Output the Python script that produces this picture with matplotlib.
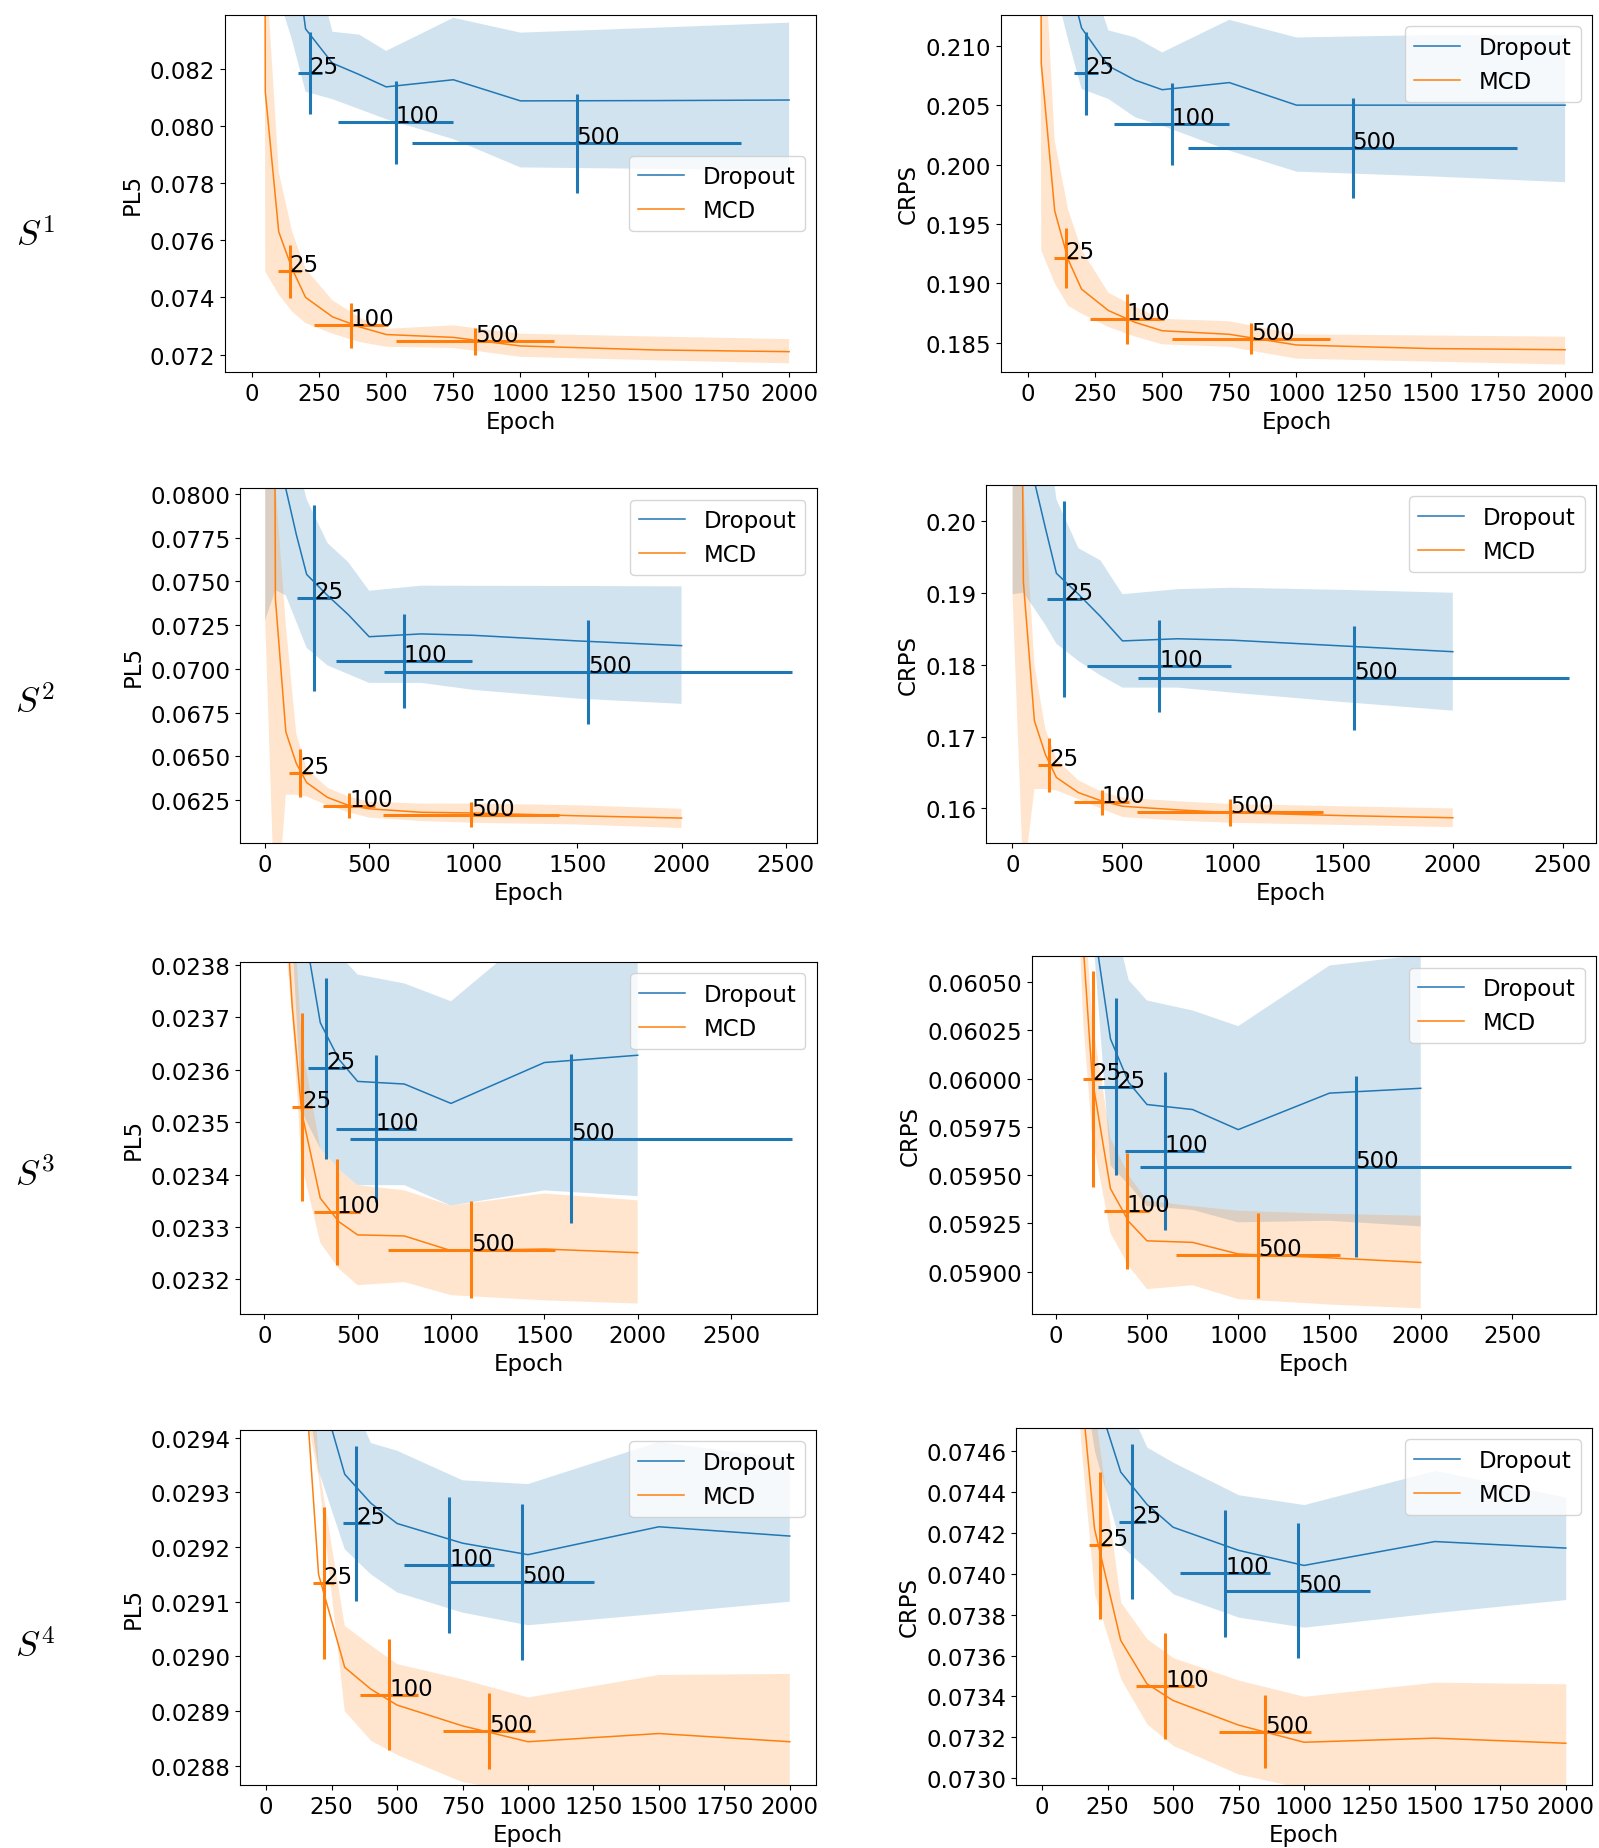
import matplotlib
matplotlib.use("Agg")
import matplotlib.pyplot as plt
from matplotlib.ticker import FormatStrFormatter

plt.rcParams["mathtext.fontset"] = "cm"
plt.rcParams["font.family"] = ["DejaVu Sans"]

# ---------------- data ----------------
epochs = [1, 50, 100, 150, 200, 300, 400, 500, 750, 1000, 1500, 2000]
series_names = ["Dropout", "MCD"]
cross_labels = ["25", "100", "500"]
row_labels = ["$S^1$", "$S^2$", "$S^3$", "$S^4$"]
metric_names = ["PL5", "CRPS"]

# cross positions along epoch axis (shared by both metrics of one setting)
s1_drop_cx = [215, 535, 1209]
s1_drop_cxerr = [45, 214, 612]
s1_mcd_cx = [141, 368, 831]
s1_mcd_cxerr = [43, 138, 293]
s2_drop_cx = [235, 667, 1550]
s2_drop_cxerr = [80, 327, 978]
s2_mcd_cx = [168, 405, 989]
s2_mcd_cxerr = [53, 125, 422]
s3_drop_cx = [332, 597, 1643]
s3_drop_cxerr = [100, 215, 1182]
s3_mcd_cx = [203, 389, 1109]
s3_mcd_cxerr = [52, 123, 448]
s4_drop_cx = [344, 699, 976]
s4_drop_cxerr = [51, 172, 278]
s4_mcd_cx = [219, 470, 851]
s4_mcd_cxerr = [39, 110, 177]

# S1 PL5
s1_pl5_drop_mean = [0.30, 0.12, 0.095, 0.0870, 0.0834, 0.0822, 0.0818, 0.08137, 0.08162, 0.08088, 0.08089, 0.08091]
s1_pl5_drop_up = [0.32, 0.15, 0.11, 0.095, 0.0870, 0.0833, 0.0832, 0.08263, 0.08379, 0.08327, 0.08344, 0.08362]
s1_pl5_drop_lo = [0.28, 0.10, 0.0845, 0.0830, 0.0812, 0.08094, 0.08059, 0.08024, 0.07954, 0.07855, 0.0785, 0.07847]
s1_pl5_mcd_mean = [0.40, 0.0812, 0.0763, 0.0750, 0.0740, 0.07332, 0.07297, 0.0727, 0.0726, 0.0723, 0.07216, 0.0721]
s1_pl5_mcd_up = [0.45, 0.0860, 0.0784, 0.0763, 0.0750, 0.0739, 0.0733, 0.0729, 0.07302, 0.07273, 0.07263, 0.07254]
s1_pl5_mcd_lo = [0.35, 0.0749, 0.0741, 0.0735, 0.0731, 0.07273, 0.07244, 0.07227, 0.07223, 0.07192, 0.0718, 0.07169]
s1_pl5_drop_cy = [0.08185, 0.08013, 0.07939]
s1_pl5_drop_cyerr = [0.00143, 0.00145, 0.00173]
s1_pl5_mcd_cy = [0.07491, 0.07302, 0.07247]
s1_pl5_mcd_cyerr = [0.00094, 0.00078, 0.00047]

# S1 CRPS
s1_crps_drop_mean = [0.5, 0.25, 0.225, 0.2160, 0.2115, 0.2083, 0.2071, 0.2063, 0.2069, 0.2050, 0.2050, 0.2050]
s1_crps_drop_up = [0.55, 0.30, 0.25, 0.23, 0.2180, 0.2113, 0.2107, 0.20944, 0.21219, 0.2107, 0.2109, 0.2109]
s1_crps_drop_lo = [0.45, 0.22, 0.2150, 0.2105, 0.20636, 0.20552, 0.20397, 0.20327, 0.20117, 0.1994, 0.1990, 0.19851]
s1_crps_mcd_mean = [0.6, 0.2085, 0.1961, 0.1920, 0.1895, 0.1877, 0.1867, 0.1860, 0.1857, 0.1848, 0.1845, 0.1844]
s1_crps_mcd_up = [0.65, 0.2232, 0.2020, 0.1962, 0.1928, 0.1892, 0.1880, 0.1870, 0.1868, 0.1857, 0.1856, 0.1855]
s1_crps_mcd_lo = [0.55, 0.19276, 0.1900, 0.1881, 0.18744, 0.18632, 0.1855, 0.18486, 0.18464, 0.18365, 0.1834, 0.18315]
s1_crps_drop_cy = [0.20770, 0.20341, 0.2014]
s1_crps_drop_cyerr = [0.0035, 0.00343, 0.00423]
s1_crps_mcd_cy = [0.19215, 0.18696, 0.18534]
s1_crps_mcd_cyerr = [0.00252, 0.0021, 0.0013]

# S2 PL5
s2_pl5_drop_mean = [0.20, 0.12, 0.0803, 0.0777, 0.0754, 0.0742, 0.0731, 0.07184, 0.0720, 0.07192, 0.0716, 0.07133]
s2_pl5_drop_up = [0.25, 0.15, 0.11, 0.0820, 0.0797, 0.0772, 0.0761, 0.07447, 0.07476, 0.07475, 0.07474, 0.07472]
s2_pl5_drop_lo = [0.0728, 0.0745, 0.0742, 0.0727, 0.0712, 0.0702, 0.0697, 0.0692, 0.0692, 0.0688, 0.0683, 0.0680]
s2_pl5_mcd_mean = [0.25, 0.0740, 0.0664, 0.0646, 0.0635, 0.06265, 0.0622, 0.0620, 0.0618, 0.06176, 0.0616, 0.06147]
s2_pl5_mcd_up = [0.30, 0.0805, 0.0725, 0.0663, 0.0643, 0.0632, 0.0627, 0.0624, 0.0623, 0.0623, 0.0622, 0.0620]
s2_pl5_mcd_lo = [0.0727, 0.0550, 0.0628, 0.0628, 0.0627, 0.0622, 0.0618, 0.0615, 0.0613, 0.0612, 0.0611, 0.0609]
s2_pl5_drop_cy = [0.07405, 0.07043, 0.06984]
s2_pl5_drop_cyerr = [0.00534, 0.00268, 0.00298]
s2_pl5_mcd_cy = [0.06404, 0.06218, 0.06166]
s2_pl5_mcd_cyerr = [0.00138, 0.0007, 0.0007]

# S2 CRPS
s2_crps_drop_mean = [0.40, 0.30, 0.2055, 0.1990, 0.1927, 0.1898, 0.1867, 0.1833, 0.1836, 0.1834, 0.1826, 0.1818]
s2_crps_drop_up = [0.45, 0.35, 0.25, 0.215, 0.2030, 0.1962, 0.1945, 0.1898, 0.1905, 0.1907, 0.1904, 0.1900]
s2_crps_drop_lo = [0.1898, 0.1900, 0.1878, 0.1855, 0.1829, 0.1805, 0.1785, 0.1768, 0.1768, 0.1761, 0.1748, 0.1736]
s2_crps_mcd_mean = [0.40, 0.1915, 0.1722, 0.1675, 0.1643, 0.1622, 0.1611, 0.1603, 0.1598, 0.1594, 0.1590, 0.1587]
s2_crps_mcd_up = [0.45, 0.205, 0.1800, 0.1710, 0.1668, 0.1639, 0.1624, 0.1615, 0.1610, 0.1606, 0.1603, 0.1600]
s2_crps_mcd_lo = [0.1895, 0.150, 0.1627, 0.1627, 0.1625, 0.1613, 0.1600, 0.1588, 0.1583, 0.1580, 0.1577, 0.1574]
s2_crps_drop_cy = [0.18911, 0.17979, 0.17817]
s2_crps_drop_cyerr = [0.0136, 0.0064, 0.0072]
s2_crps_mcd_cy = [0.16603, 0.16083, 0.15944]
s2_crps_mcd_cyerr = [0.0037, 0.0017, 0.0019]

# S3 PL5
s3_pl5_drop_mean = [0.030, 0.026, 0.0245, 0.0241, 0.02390, 0.023690, 0.023620, 0.023578, 0.023573, 0.023536, 0.023614, 0.023628]
s3_pl5_drop_up = [0.032, 0.028, 0.026, 0.025, 0.0245, 0.0240, 0.02382, 0.023782, 0.023765, 0.023731, 0.02388, 0.02395]
s3_pl5_drop_lo = [0.028, 0.025, 0.0242, 0.02385, 0.02352, 0.02345, 0.02341, 0.02338, 0.02338, 0.023341, 0.02337, 0.023359]
s3_pl5_mcd_mean = [0.030, 0.026, 0.0240, 0.02372, 0.02352, 0.023355, 0.02331, 0.023285, 0.023283, 0.023255, 0.023258, 0.023251]
s3_pl5_mcd_up = [0.031, 0.027, 0.0245, 0.02395, 0.02365, 0.02345, 0.02341, 0.02338, 0.02337, 0.023341, 0.023364, 0.023351]
s3_pl5_mcd_lo = [0.029, 0.025, 0.0239, 0.02370, 0.02342, 0.02327, 0.02322, 0.023189, 0.023195, 0.02317, 0.02316, 0.023154]
s3_pl5_drop_cy = [0.023603, 0.023488, 0.023469]
s3_pl5_drop_cyerr = [0.000173, 0.00014, 0.000162]
s3_pl5_mcd_cy = [0.023529, 0.023329, 0.023257]
s3_pl5_mcd_cyerr = [0.000179, 0.000101, 0.000092]

# S3 CRPS
s3_crps_drop_mean = [0.070, 0.065, 0.0620, 0.0612, 0.06085, 0.060206, 0.05998, 0.059866, 0.05984, 0.059736, 0.059925, 0.05995]
s3_crps_drop_up = [0.072, 0.067, 0.064, 0.063, 0.0618, 0.0609, 0.06051, 0.060405, 0.060353, 0.060272, 0.060586, 0.06064]
s3_crps_drop_lo = [0.068, 0.064, 0.0615, 0.0615, 0.0608, 0.05955, 0.05945, 0.05934, 0.05932, 0.059256, 0.059264, 0.059235]
s3_crps_mcd_mean = [0.070, 0.065, 0.0620, 0.0607, 0.06000, 0.05943, 0.05926, 0.05916, 0.059152, 0.059092, 0.059072, 0.059048]
s3_crps_mcd_up = [0.071, 0.066, 0.0625, 0.0610, 0.0603, 0.05969, 0.05950, 0.059368, 0.05934, 0.059316, 0.0593, 0.05929]
s3_crps_mcd_lo = [0.069, 0.064, 0.0615, 0.0603, 0.0597, 0.05920, 0.05903, 0.05891, 0.05893, 0.058858, 0.05883, 0.05881]
s3_crps_drop_cy = [0.059959, 0.059624, 0.059544]
s3_crps_drop_cyerr = [0.00046, 0.00041, 0.00047]
s3_crps_mcd_cy = [0.059999, 0.059313, 0.059086]
s3_crps_mcd_cyerr = [0.00056, 0.0003, 0.00022]

# S4 PL5
s4_pl5_drop_mean = [0.035, 0.032, 0.0305, 0.0298, 0.02950, 0.029333, 0.02928, 0.029243, 0.029207, 0.029186, 0.029237, 0.029220]
s4_pl5_drop_up = [0.036, 0.033, 0.031, 0.0300, 0.0296, 0.02950, 0.02939, 0.029376, 0.029322, 0.029315, 0.029392, 0.02936]
s4_pl5_drop_lo = [0.034, 0.031, 0.0300, 0.0295, 0.02934, 0.029196, 0.02915, 0.029117, 0.02908, 0.029057, 0.029078, 0.0291]
s4_pl5_mcd_mean = [0.035, 0.032, 0.0300, 0.02950, 0.02915, 0.02898, 0.02894, 0.028911, 0.028873, 0.028844, 0.028859, 0.028844]
s4_pl5_mcd_up = [0.036, 0.033, 0.0305, 0.0298, 0.02935, 0.029056, 0.02902, 0.028986, 0.028958, 0.028925, 0.028966, 0.028968]
s4_pl5_mcd_lo = [0.034, 0.031, 0.0298, 0.02945, 0.02933, 0.0289, 0.028846, 0.02882, 0.02877, 0.02875, 0.02875, 0.02875]
s4_pl5_drop_cy = [0.029243, 0.029167, 0.029136]
s4_pl5_drop_cyerr = [0.000141, 0.000124, 0.000142]
s4_pl5_mcd_cy = [0.029135, 0.02893, 0.028864]
s4_pl5_mcd_cyerr = [0.000139, 0.000102, 0.000069]

# S4 CRPS
s4_crps_drop_mean = [0.080, 0.078, 0.0765, 0.0755, 0.0749, 0.074498, 0.07434, 0.074228, 0.074115, 0.074041, 0.074158, 0.074126]
s4_crps_drop_up = [0.081, 0.079, 0.0775, 0.0760, 0.0752, 0.0749, 0.07462, 0.074546, 0.074387, 0.074339, 0.074506, 0.074375]
s4_crps_drop_lo = [0.079, 0.077, 0.0760, 0.0750, 0.0746, 0.074139, 0.074024, 0.073902, 0.073788, 0.073739, 0.07381, 0.073874]
s4_crps_mcd_mean = [0.080, 0.078, 0.0760, 0.0749, 0.07422, 0.073674, 0.073462, 0.07338, 0.07326, 0.073176, 0.073196, 0.073171]
s4_crps_mcd_up = [0.081, 0.079, 0.0770, 0.0755, 0.0748, 0.073861, 0.073682, 0.07359, 0.07348, 0.073401, 0.07347, 0.073462]
s4_crps_mcd_lo = [0.079, 0.077, 0.0755, 0.0746, 0.07390, 0.073486, 0.073266, 0.07316, 0.07302, 0.07295, 0.07295, 0.07295]
s4_crps_drop_cy = [0.074256, 0.074002, 0.073917]
s4_crps_drop_cyerr = [0.00038, 0.00031, 0.00033]
s4_crps_mcd_cy = [0.074139, 0.07345, 0.073228]
s4_crps_mcd_cyerr = [0.00036, 0.00026, 0.00018]

# tick values
s1_pl5_yticks = [0.072, 0.074, 0.076, 0.078, 0.080, 0.082]
s1_crps_yticks = [0.185, 0.190, 0.195, 0.200, 0.205, 0.210]
s2_pl5_yticks = [0.0625, 0.0650, 0.0675, 0.0700, 0.0725, 0.0750, 0.0775, 0.0800]
s2_crps_yticks = [0.16, 0.17, 0.18, 0.19, 0.20]
s3_pl5_yticks = [0.0232, 0.0233, 0.0234, 0.0235, 0.0236, 0.0237, 0.0238]
s3_crps_yticks = [0.05900, 0.05925, 0.05950, 0.05975, 0.06000, 0.06025, 0.06050]
s4_pl5_yticks = [0.0288, 0.0289, 0.0290, 0.0291, 0.0292, 0.0293, 0.0294]
s4_crps_yticks = [0.0730, 0.0732, 0.0734, 0.0736, 0.0738, 0.0740, 0.0742, 0.0744, 0.0746]
xticks_2000 = [0, 250, 500, 750, 1000, 1250, 1500, 1750, 2000]
xticks_2500 = [0, 500, 1000, 1500, 2000, 2500]

# ---------------- build panel tables ----------------
G = globals()
panels = []
for si in range(1, 5):
    for metric in ["pl5", "crps"]:
        p = {}
        for meth in ["drop", "mcd"]:
            for k in ["mean", "up", "lo", "cy", "cyerr"]:
                p[meth + "_" + k] = G[f"s{si}_{metric}_{meth}_{k}"]
            p[meth + "_cx"] = G[f"s{si}_{meth}_cx"]
            p[meth + "_cxerr"] = G[f"s{si}_{meth}_cxerr"]
        p["yticks"] = G[f"s{si}_{metric}_yticks"]
        panels.append(p)

# ---------------- layout ----------------
FS = 16.5
fig = plt.figure(figsize=(15.99, 18.49), dpi=100)

axes_rects = [
    [0.1407, 0.7983, 0.3696, 0.1931], [0.6260, 0.7983, 0.3696, 0.1931],
    [0.1501, 0.5435, 0.3608, 0.1920], [0.6166, 0.5435, 0.3815, 0.1937],
    [0.1501, 0.2888, 0.3608, 0.1904], [0.6454, 0.2888, 0.3527, 0.1936],
    [0.1501, 0.0341, 0.3602, 0.1920], [0.6354, 0.0341, 0.3602, 0.1931],
]
ylims = [
    (0.07139, 0.08389), (0.18253, 0.2126),
    (0.06004, 0.08034), (0.15518, 0.2050),
    (0.023134, 0.023806), (0.058781, 0.060635),
    (0.028765, 0.029414), (0.072967, 0.074714),
]
xlims = [(-100, 2100)] * 2 + [(-120, 2650)] * 2 + [(-130, 2960)] * 2 + [(-100, 2100)] * 2
xtick_sets = [xticks_2000] * 2 + [xticks_2500] * 4 + [xticks_2000] * 2
fmts = ["%.3f", "%.3f", "%.4f", "%.2f", "%.4f", "%.5f", "%.4f", "%.4f"]
legend_locs = ["center right"] + ["upper right"] * 7
row_label_y = [0.8724, 0.6198, 0.3645, 0.1092]

colors = {"drop": "#1f77b4", "mcd": "#ff7f0e"}

for i, p in enumerate(panels):
    ax = fig.add_axes(axes_rects[i])
    for meth, name in zip(["drop", "mcd"], series_names):
        c = colors[meth]
        ax.fill_between(epochs, p[meth + "_lo"], p[meth + "_up"], color=c, alpha=0.2, linewidth=0)
        ax.plot(epochs, p[meth + "_mean"], color=c, lw=1.1, label=name)
    for meth in ["drop", "mcd"]:
        c = colors[meth]
        ax.errorbar(p[meth + "_cx"], p[meth + "_cy"], xerr=p[meth + "_cxerr"], yerr=p[meth + "_cyerr"],
                    fmt="none", ecolor=c, elinewidth=2.2, capsize=0, zorder=4)
        for x, y, lab in zip(p[meth + "_cx"], p[meth + "_cy"], cross_labels):
            ax.text(x, y, lab, fontsize=FS, ha="left", va="baseline", zorder=5)
    ax.set_xlim(*xlims[i])
    ax.set_ylim(*ylims[i])
    ax.set_xticks(xtick_sets[i])
    ax.set_yticks(p["yticks"])
    ax.yaxis.set_major_formatter(FormatStrFormatter(fmts[i]))
    ax.tick_params(labelsize=FS)
    ax.set_xlabel("Epoch", fontsize=FS)
    ax.set_ylabel(metric_names[i % 2], fontsize=FS)
    ax.legend(loc=legend_locs[i], fontsize=FS)

for lab, y in zip(row_labels, row_label_y):
    fig.text(0.022, y, lab, fontsize=26, ha="center", va="center")

fig.savefig("out.png", dpi=100)
